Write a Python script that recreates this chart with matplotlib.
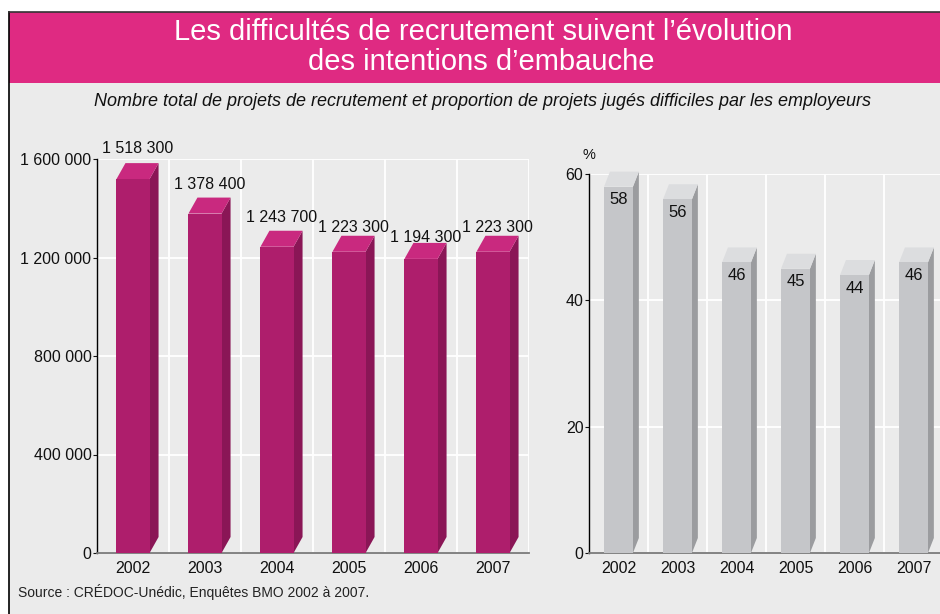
import matplotlib
matplotlib.use('Agg')
import matplotlib.pyplot as plt
from matplotlib.patches import Polygon, Rectangle
from matplotlib.lines import Line2D
import numpy as np

# data
years = ['2002', '2003', '2004', '2005', '2006', '2007']
projets = [1518300, 1378400, 1243700, 1223300, 1194300, 1223300]
projets_labels = ['1 518 300', '1 378 400', '1 243 700', '1 223 300', '1 194 300', '1 223 300']
difficiles = [58, 56, 46, 45, 44, 46]
left_ticks = [0, 400000, 800000, 1200000, 1600000]
left_ticklabels = ['0', '400 000', '800 000', '1 200 000', '1 600 000']
right_ticks = [0, 20, 40, 60]

title = "Les difficultés de recrutement suivent l’évolution\ndes intentions d’embauche"
subtitle = "Nombre total de projets de recrutement et proportion de projets jugés difficiles par les employeurs"
source = "Source : CRÉDOC-Unédic, Enquêtes BMO 2002 à 2007."

plt.rcParams['font.family'] = ['Liberation Sans', 'DejaVu Sans']

W, H = 940, 614
BG = '#ebebeb'
PINK = '#df2a82'
TXT = '#111111'


def fx(px):
    return px / W


def fy(py):
    return 1 - py / H


fig = plt.figure(figsize=(9.4, 6.14), dpi=100, facecolor='white')

# frame, title band, grey background
fig.patches.append(Rectangle((fx(9), 0), 1 - fx(9), fy(83), transform=fig.transFigure,
                             facecolor=BG, edgecolor='none', zorder=-10))
fig.patches.append(Rectangle((fx(9), fy(83)), 1 - fx(9), fy(12) - fy(83), transform=fig.transFigure,
                             facecolor=PINK, edgecolor='none', zorder=-10))
fig.lines.append(Line2D([fx(9), fx(9)], [0, fy(12)], transform=fig.transFigure, color='black', lw=1.2))
fig.lines.append(Line2D([fx(9), 1], [fy(12), fy(12)], transform=fig.transFigure, color='#333333', lw=1.2))

lines = title.split('\n')
fig.text(fx(483), fy(32), lines[0], ha='center', va='center', color='white', fontsize=21)
fig.text(fx(481), fy(62), lines[1], ha='center', va='center', color='white', fontsize=21)
fig.text(fx(482), fy(101), subtitle, ha='center', va='center', color=TXT, fontsize=13,
         style='italic')
fig.text(fx(18), fy(592), source, ha='left', va='center', color='#222222', fontsize=10)


def bars3d(ax, values, width, dx, dy, front, top, side):
    for i, v in enumerate(values):
        x0, x1 = i - width / 2, i + width / 2
        ax.add_patch(Polygon([(x1, 0), (x1 + dx, dy), (x1 + dx, v + dy), (x1, v)],
                             closed=True, facecolor=side, edgecolor='none', zorder=3, clip_on=False))
        ax.add_patch(Polygon([(x0, v), (x1, v), (x1 + dx, v + dy), (x0 + dx, v + dy)],
                             closed=True, facecolor=top, edgecolor='none', zorder=3, clip_on=False))
        ax.add_patch(Rectangle((x0, 0), width, v, facecolor=front, edgecolor='none', zorder=4))


def style_axes(ax):
    ax.set_facecolor(BG)
    for s in ['top', 'right']:
        ax.spines[s].set_visible(False)
    ax.spines['left'].set_color('black')
    ax.spines['left'].set_linewidth(1)
    ax.spines['bottom'].set_color('#7a7a7a')
    ax.spines['bottom'].set_linewidth(1.3)
    ax.set_xticks(np.arange(len(years)))
    ax.set_xticks(np.arange(len(years)) + 0.5, minor=True)
    ax.set_xticklabels(years, fontsize=11.5, color=TXT)
    ax.tick_params(axis='x', which='both', length=0, pad=6)
    ax.tick_params(axis='y', length=3, pad=1, width=0.8, colors=TXT, labelsize=11.5)
    ax.grid(True, which='minor', axis='x', color='white', lw=1.3, zorder=1)
    ax.grid(True, which='major', axis='y', color='white', lw=1.3, zorder=1)
    ax.set_axisbelow(True)


# left chart: number of projects
ax1 = fig.add_axes([fx(97), fy(553), fx(529) - fx(97), fy(159) - fy(553)])
ax1.set_xlim(-0.5, 5.5)
ax1.set_ylim(0, 1600000)
ax1.set_yticks(left_ticks)
ax1.set_yticklabels(left_ticklabels)
style_axes(ax1)
dy1 = 16 / 394 * 1600000
bars3d(ax1, projets, 0.46, 0.125, dy1, '#ae1e6c', '#c9297f', '#8a1656')
label_gap = [15, 13, 13, 8, 5, 8]  # px above top face (labels dodge each other)
for i, (v, lab) in enumerate(zip(projets, projets_labels)):
    ax1.annotate(lab, (i + 0.06, v + dy1), xytext=(0, label_gap[i] * 0.72), textcoords='offset points',
                 ha='center', va='center', fontsize=11.5, color=TXT, zorder=6,
                 annotation_clip=False)

# right chart: share of difficult projects
ax2 = fig.add_axes([fx(589), fy(553), fx(943) - fx(589), fy(174) - fy(553)])
ax2.set_xlim(-0.5, 5.5)
ax2.set_ylim(0, 60)
ax2.set_yticks(right_ticks)
style_axes(ax2)
dy2 = 15 / 379 * 60
bars3d(ax2, difficiles, 0.49, 0.1, dy2, '#c5c6c9', '#dcdddf', '#9b9c9f')
for i, v in enumerate(difficiles):
    ax2.annotate(str(v), (i, v), xytext=(0, -13 * 0.72), textcoords='offset points',
                 ha='center', va='center', fontsize=12, color=TXT, zorder=6)
fig.text(fx(589), fy(155), '%', ha='center', va='center', fontsize=10.5, color=TXT)

fig.savefig('out.png', dpi=100, facecolor=fig.get_facecolor())
